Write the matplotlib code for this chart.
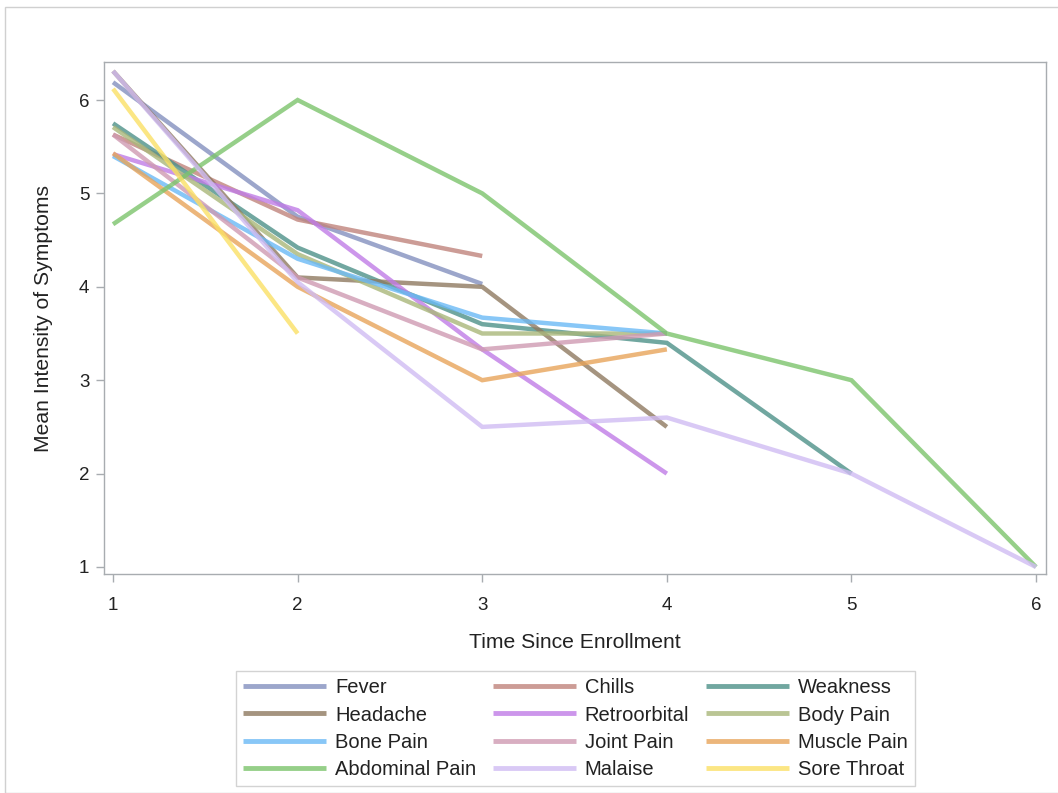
import matplotlib
matplotlib.use("Agg")
import matplotlib.pyplot as plt
from matplotlib.patches import Rectangle

plt.rcParams['font.family'] = ['Liberation Sans', 'DejaVu Sans']

# Mean symptom intensity by visit (time since enrollment)
fever_t = [1, 2, 3]
fever_v = [6.19, 4.75, 4.03]
chills_t = [1, 2, 3]
chills_v = [5.63, 4.72, 4.33]
weakness_t = [1, 2, 3, 4, 5]
weakness_v = [5.75, 4.42, 3.60, 3.40, 2.00]
headache_t = [1, 2, 3, 4]
headache_v = [6.31, 4.10, 4.00, 2.50]
retro_t = [1, 2, 3, 4]
retro_v = [5.42, 4.82, 3.33, 2.00]
body_t = [1, 2, 3, 4]
body_v = [5.71, 4.35, 3.50, 3.50]
bone_t = [1, 2, 3, 4]
bone_v = [5.40, 4.30, 3.67, 3.50]
joint_t = [1, 2, 3, 4]
joint_v = [5.63, 4.10, 3.33, 3.50]
muscle_t = [1, 2, 3, 4]
muscle_v = [5.43, 4.00, 3.00, 3.33]
abdominal_t = [1, 2, 3, 4, 5, 6]
abdominal_v = [4.67, 6.00, 5.00, 3.50, 3.00, 1.00]
malaise_t = [1, 2, 3, 4, 5, 6]
malaise_v = [6.31, 4.05, 2.50, 2.60, 2.00, 1.00]
sore_t = [1, 2]
sore_v = [6.12, 3.50]

series = [
    ("Fever", fever_t, fever_v, "#8390bf"),
    ("Chills", chills_t, chills_v, "#c0847c"),
    ("Weakness", weakness_t, weakness_v, "#4e9189"),
    ("Headache", headache_t, headache_v, "#8f7a60"),
    ("Retroorbital", retro_t, retro_v, "#c07ce6"),
    ("Body Pain", body_t, body_v, "#a9b77a"),
    ("Bone Pain", bone_t, bone_v, "#6ab9f5"),
    ("Joint Pain", joint_t, joint_v, "#cf9ab2"),
    ("Muscle Pain", muscle_t, muscle_v, "#e8a45a"),
    ("Abdominal Pain", abdominal_t, abdominal_v, "#7cc46c"),
    ("Malaise", malaise_t, malaise_v, "#d0bcf3"),
    ("Sore Throat", sore_t, sore_v, "#fbe065"),
]

W, H = 1058, 793
fig = plt.figure(figsize=(W / 100, H / 100), dpi=100)

# outer page border
fig.patches.append(Rectangle((5 / W, 0), 1.2, 1 - 7 / H, transform=fig.transFigure,
                             fill=False, edgecolor="#d0d0d0", linewidth=1.0))

ax = fig.add_axes([104 / W, 1 - 574 / H, (1046 - 104) / W, (574 - 62) / H])

handles = []
for name, t, v, c in series:
    h, = ax.plot(t, v, color=c, linewidth=3.2, alpha=0.8, solid_capstyle="butt",
                 solid_joinstyle="miter", label=name)
    handles.append(h)

ax.set_xlim(0.951, 6.054)
ax.set_ylim(0.925, 6.407)
ax.set_xticks([1, 2, 3, 4, 5, 6])
ax.set_yticks([1, 2, 3, 4, 5, 6])
for s in ax.spines.values():
    s.set_color("#a8acb0")
    s.set_linewidth(1.0)
ax.tick_params(direction="out", length=5.5, width=1, color="#a8acb0",
               labelsize=13.5, labelcolor="#222222")
ax.tick_params(axis="x", pad=11)
ax.tick_params(axis="y", pad=5)
ax.set_xlabel("Time Since Enrollment", fontsize=15.2, color="#222222", labelpad=14)
ax.set_ylabel("Mean Intensity of Symptoms", fontsize=15.2, color="#222222", labelpad=19)

order = [0, 3, 6, 9, 1, 4, 7, 10, 2, 5, 8, 11]
leg = fig.legend([handles[i] for i in order], [series[i][0] for i in order],
                 loc="upper center", bbox_to_anchor=(575.5 / W, 1 - 671 / H),
                 ncol=3, fontsize=14.5, frameon=True, fancybox=False,
                 edgecolor="#c8c8c8", handlelength=4.1, handletextpad=0.45,
                 columnspacing=0.85, labelspacing=0.42, borderpad=0.35,
                 borderaxespad=0)
leg.get_frame().set_linewidth(1.0)
for lh in leg.get_lines():
    lh.set_linewidth(3.5)
for txt in leg.get_texts():
    txt.set_color("#222222")

fig.savefig("out.png", dpi=100, facecolor="white")
